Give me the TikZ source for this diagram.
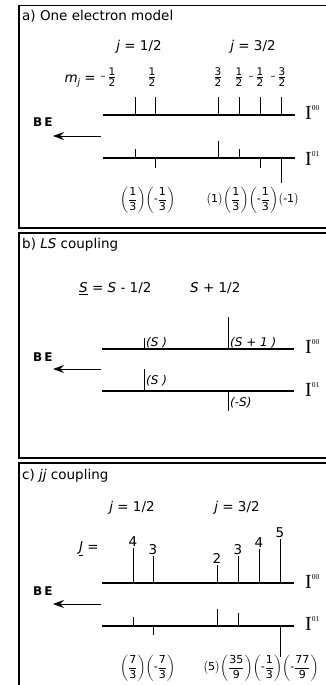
\documentclass[tikz,border=0pt]{standalone}
\usepackage{amsmath}
\usepackage{fontspec}
\setmainfont{DejaVu Sans}
\newfontfamily\serifI{Liberation Serif}
\usetikzlibrary{arrows.meta}
\newcommand{\lev}[1]{{\serifI\fontsize{20}{20}\selectfont I\raisebox{8.5pt}{\fontsize{7.5}{7.5}\selectfont #1}}}
\newcommand{\hf}[2]{$\frac{\text{#1}}{\text{#2}}$}
\newcommand{\pf}[2]{{\left(\dfrac{\text{#1}}{\text{#2}}\right)}}
\newcommand{\mf}[2]{{\left(\text{-}\dfrac{\text{#1}}{\text{#2}}\right)}}
\newcommand{\spar}[1]{{\bigl(\text{#1}\bigr)}}
\begin{document}
\begin{tikzpicture}[x=1pt,y=-1pt,
  every node/.style={inner sep=0pt},
  txt/.style={font=\fontsize{13.5}{16}\selectfont},
  mfr/.style={font=\fontsize{15}{16}\selectfont},
  lab/.style={font=\fontsize{12}{14}\selectfont},
  mns/.style={font=\fontsize{10}{12}\selectfont},
  pfrac/.style={font=\fontsize{11}{13}\selectfont},
  be/.style={font=\fontsize{12}{14}\selectfont\bfseries},
  frame/.style={line width=1.3pt},
  lvl/.style={line width=1.3pt},
  tk/.style={line width=1pt},
  bearrow/.style={line width=1pt,-{Stealth[length=11pt,width=8pt,inset=4pt]}}]
\useasboundingbox (0,0) rectangle (326,685);

% ---------- frames
\draw[frame] (326,5.7) -- (19,5.7) -- (19,228) -- (326,228);
\draw[frame] (326,233) -- (19,233) -- (19,458) -- (326,458);
\draw[frame] (326,463) -- (19,463) -- (19,686);

% ================= panel a
\node[txt,anchor=base west] (ta) at (22,20.5) {a) One electron model};
\node[txt] (ja1) at (139,47) {\textit{j} = 1/2};
\node[txt] (ja2) at (253,47) {\textit{j} = 3/2};
\node[txt,anchor=base east] (mj) at (96,82) {\textit{m}\raisebox{-3pt}{\fontsize{9}{9}\selectfont\textit{j}} =};
\node[mns] (ma0) at (103,78) {–};
\node[mfr] (ma1) at (112,77) {\hf{1}{2}};
\node[mfr] (ma2) at (152,77) {\hf{1}{2}};
\node[mfr] (ma3) at (218,77) {\hf{3}{2}};
\node[mfr] (ma4) at (239,77) {\hf{1}{2}};
\node[mns] (ma5m) at (251,78) {–};
\node[mfr] (ma5) at (260,77) {\hf{1}{2}};
\node[mns] (ma6m) at (273,78) {–};
\node[mfr] (ma6) at (282,77) {\hf{3}{2}};

\coordinate (a0l) at (103,115); \coordinate (a0r) at (295,115);
\coordinate (a1l) at (103,158); \coordinate (a1r) at (295,158);
\draw[lvl] (a0l) -- (a0r);
\draw[lvl] (a1l) -- (a1r);
\foreach \x in {135,155,218,239,260,281} \draw[tk] (\x,115) -- (\x,97);
\draw[tk] (135,158) -- (135,149);
\draw[tk] (155,158) -- (155,168);
\draw[tk] (218,158) -- (218,141);
\draw[tk] (239,158) -- (239,149);
\draw[tk] (260,158) -- (260,168);
\draw[tk] (281,158) -- (281,183);
\node[anchor=base west] (ia0) at (305,119) {\lev{00}};
\node[anchor=base west] (ia1) at (305,165) {\lev{01}};
\node[be,anchor=west] (bea) at (33,122) {B\hspace{2pt}E};
\coordinate (baA) at (101,136); \coordinate (baB) at (53,136);
\draw[bearrow] (baA) -- (baB);
\node[pfrac,anchor=west] (pa1) at (120,200) {$\pf{1}{3}\mf{1}{3}$};
\node[pfrac,anchor=west] (pa2) at (206,200) {$\spar{1}\pf{1}{3}\mf{1}{3}\spar{-1}$};

% ================= panel b
\node[txt,anchor=base west] (tb) at (22,248) {b) \textit{LS} coupling};
\node[txt,anchor=base west] (sb1) at (79,292) {\underline{\textit{S}} = \textit{S} - 1/2};
\node[txt,anchor=base west] (sb2) at (190,292) {\textit{S} + 1/2};
\coordinate (b0l) at (102,349); \coordinate (b0r) at (294,349);
\coordinate (b1l) at (102,391); \coordinate (b1r) at (294,391);
\draw[lvl] (b0l) -- (b0r);
\draw[lvl] (b1l) -- (b1r);
\draw[tk] (144,349) -- (144,338);
\draw[tk] (228,349) -- (228,317);
\draw[tk] (144,391) -- (144,369);
\draw[tk] (228,391) -- (228,411);
\node[lab,anchor=base west] (lb1) at (146,346) {\textit{(S )}};
\node[lab,anchor=base west] (lb2) at (230,346) {\textit{(S + 1 )}};
\node[lab,anchor=base west] (lb3) at (146,384) {\textit{(S )}};
\node[lab,anchor=base west] (lb4) at (230,406) {\textit{(-S)}};
\node[anchor=base west] (ib0) at (305,353) {\lev{00}};
\node[anchor=base west] (ib1) at (305,396) {\lev{01}};
\node[be,anchor=west] (beb) at (33,357) {B\hspace{2pt}E};
\coordinate (bbA) at (101,369); \coordinate (bbB) at (53,369);
\draw[bearrow] (bbA) -- (bbB);

% ================= panel c
\node[txt,anchor=base west] (tc) at (22,479) {c) \textit{jj} coupling};
\node[txt] (jc1) at (132,508) {\textit{j} = 1/2};
\node[txt] (jc2) at (237,508) {\textit{j} = 3/2};
\node[txt,anchor=base west] (Jc) at (79,551) {\underline{\textit{J}} =};
\coordinate (c0l) at (102,583); \coordinate (c0r) at (294,583);
\coordinate (c1l) at (102,626); \coordinate (c1r) at (294,626);
\draw[lvl] (c0l) -- (c0r);
\draw[lvl] (c1l) -- (c1r);
\foreach \x/\t/\n in {133/548/4,153/556/3,217/565/2,238/556/3,259/549/4,280/539/5}{
  \draw[tk] (\x,583) -- (\x,\t);
  \node[txt,anchor=south] (n\x) at (\x,\t-1.5) {\n};
}
\draw[tk] (133,626) -- (133,617);
\draw[tk] (153,626) -- (153,635);
\draw[tk] (217,626) -- (217,609);
\draw[tk] (238,626) -- (238,613);
\draw[tk] (280,626) -- (280,657);
\node[anchor=base west] (ic0) at (305,588) {\lev{00}};
\node[anchor=base west] (ic1) at (305,630) {\lev{01}};
\node[be,anchor=west] (bec) at (33,591) {B\hspace{2pt}E};
\coordinate (bcA) at (101,604); \coordinate (bcB) at (53,604);
\draw[bearrow] (bcA) -- (bcB);
\node[pfrac,anchor=west] (pc1) at (120,668) {$\pf{7}{3}\mf{7}{3}$};
\node[pfrac,anchor=west] (pc2) at (203,668) {$\spar{5}\pf{35}{9}\mf{1}{3}\mf{77}{9}$};
\end{tikzpicture}
\end{document}
